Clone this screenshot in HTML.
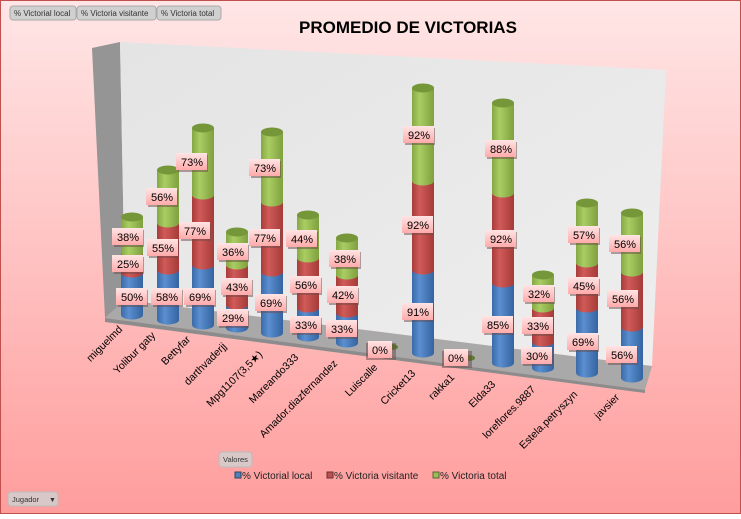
<!DOCTYPE html>
<html><head><meta charset="utf-8"><style>
body{margin:0;width:741px;height:514px;overflow:hidden;font-family:"Liberation Sans",sans-serif}
</style></head><body>
<svg width="741" height="514" viewBox="0 0 741 514" xmlns="http://www.w3.org/2000/svg" font-family="Liberation Sans, sans-serif">
<defs>
<linearGradient id="bg" x1="0" y1="0" x2="0" y2="1"><stop offset="0" stop-color="#ffe6e6"/><stop offset="1" stop-color="#ff9d9d"/></linearGradient>
<linearGradient id="wall" x1="0" y1="0" x2="1" y2="1"><stop offset="0" stop-color="#e4e4e4"/><stop offset="1" stop-color="#eeeeee"/></linearGradient>
<linearGradient id="b" x1="0" x2="1"><stop offset="0" stop-color="#3a6aa8"/><stop offset=".35" stop-color="#5b8fd0"/><stop offset="1" stop-color="#3463a0"/></linearGradient>
<linearGradient id="r" x1="0" x2="1"><stop offset="0" stop-color="#a83c3a"/><stop offset=".35" stop-color="#d05b58"/><stop offset="1" stop-color="#a53a38"/></linearGradient>
<linearGradient id="g" x1="0" x2="1"><stop offset="0" stop-color="#86a844"/><stop offset=".35" stop-color="#a9cd63"/><stop offset="1" stop-color="#7fa03e"/></linearGradient>
<linearGradient id="lb" x1="0" y1="0" x2="0" y2="1"><stop offset="0" stop-color="#ffe4e4"/><stop offset="1" stop-color="#ffaaaa"/></linearGradient>
</defs>
<rect x="0.5" y="0.5" width="740" height="513" fill="url(#bg)" stroke="#c0504d"/>
<!-- walls -->
<polygon points="92,48 120,42 125,300 105,318" fill="#959595"/>
<polygon points="120,42 666,70 652,366 125,300" fill="url(#wall)"/>
<polygon points="105,318 125,300 652,366 645,390" fill="#a9a9a9"/>
<polygon points="105,318 645,390 645,393 105,322" fill="#8c8c8c"/>
<g id="cyl"></g>
<script>
var data=[[132,315,273,253,217],[168,320,270,223,170],[203,325,265,195,128],[237,328,305,265,232],[272,333,272,202,132],[308,337,308,258,215],[347,343,313,275,238],[423,353,270,181,88],[503,363,283,193,103],[543,368,342,308,275],[587,373,308,263,203],[632,378,327,272,213]];
var ns="http://www.w3.org/2000/svg",g=document.getElementById('cyl'),w=11,ry=4.5;
function el(t,a){var e=document.createElementNS(ns,t);for(var k in a)e.setAttribute(k,a[k]);g.appendChild(e);return e;}
data.forEach(function(d){var cx=d[0];var segs=[[d[1],d[2],'b','#3463a0'],[d[2],d[3],'r','#a53a38'],[d[3],d[4],'g','#7fa03e']];
segs.forEach(function(s){el('rect',{x:cx-w,y:s[1],width:2*w,height:s[0]-s[1],fill:'url(#'+s[2]+')'});el('ellipse',{cx:cx,cy:s[0],rx:w,ry:ry,fill:'url(#'+s[2]+')'});});
el('ellipse',{cx:cx,cy:d[4],rx:w,ry:ry,fill:'#76963a'});});
</script>
<!-- zero markers -->
<ellipse cx="392" cy="347" rx="6" ry="3" fill="#5d7f2e"/>
<ellipse cx="469" cy="358" rx="6" ry="3" fill="#5d7f2e"/>
<g font-size="11" text-anchor="middle" fill="#000" id="labs"></g>
<script>
var L=[[132,297,'50%'],[128,264,'25%'],[128,237,'38%'],[167,297,'58%'],[163,248,'55%'],[162,197,'56%'],[200,297,'69%'],[195,231,'77%'],[192,162,'73%'],[233,318,'29%'],[237,287,'43%'],[233,252,'36%'],[271,303,'69%'],[265,238,'77%'],[265,168,'73%'],[306,325,'33%'],[306,285,'56%'],[302,239,'44%'],[342,329,'33%'],[343,295,'42%'],[345,259,'38%'],[380,350,'0%'],[418,312,'91%'],[418,225,'92%'],[419,135,'92%'],[456,358,'0%'],[498,325,'85%'],[501,239,'92%'],[501,149,'88%'],[537,356,'30%'],[538,326,'33%'],[539,294,'32%'],[583,342,'69%'],[584,286,'45%'],[584,235,'57%'],[622,355,'56%'],[623,299,'56%'],[625,244,'56%']];
var lg=document.getElementById('labs');
L.forEach(function(l){var x=l[0],y=l[1];
var s=document.createElementNS(ns,'rect');s.setAttribute('x',x-14);s.setAttribute('y',y-7);s.setAttribute('width',30);s.setAttribute('height',17);s.setAttribute('fill','#6a4a4a');s.setAttribute('opacity','.5');lg.appendChild(s);
var r=document.createElementNS(ns,'rect');r.setAttribute('x',x-16);r.setAttribute('y',y-9);r.setAttribute('width',l[2].length>2?31:24);r.setAttribute('height',17);r.setAttribute('fill','url(#lb)');if(l[2].length<3)r.setAttribute('x',x-12);lg.appendChild(r);
var t=document.createElementNS(ns,'text');t.setAttribute('x',x);t.setAttribute('y',y+4);t.textContent=l[2];lg.appendChild(t);});
</script>
<!-- axis labels -->
<g font-size="10.5" fill="#000" text-anchor="end">
<text transform="translate(123,330) rotate(-45)">miguelmd</text>
<text transform="translate(156,336) rotate(-45)">Yolibur gaty</text>
<text transform="translate(191,340) rotate(-45)">Bettyfar</text>
<text transform="translate(227,347) rotate(-45)">darthvaderjj</text>
<text transform="translate(263,355) rotate(-45)">Mpg1107(3,5★)</text>
<text transform="translate(299,358) rotate(-45)">Mareando333</text>
<text transform="translate(338,364) rotate(-45)">Amador.diazfernandez</text>
<text transform="translate(378,368) rotate(-45)">Luiscalle</text>
<text transform="translate(416,374) rotate(-45)">Cricket13</text>
<text transform="translate(455,378) rotate(-45)">rakka1</text>
<text transform="translate(496,385) rotate(-45)">Elda33</text>
<text transform="translate(536,390) rotate(-45)">loreflores.9887</text>
<text transform="translate(578,395) rotate(-45)">Estela.petryszyn</text>
<text transform="translate(620,398) rotate(-45)">javsier</text>
</g>
<text x="408" y="33" font-size="17" font-weight="bold" text-anchor="middle">PROMEDIO DE VICTORIAS</text>
<!-- top buttons -->
<g font-size="8" fill="#333">
<rect x="10" y="6" width="66" height="14" rx="3" fill="#d0d0d0" stroke="#aaa"/><text x="14" y="16">% Victorial local</text>
<rect x="77" y="6" width="79" height="14" rx="3" fill="#d0d0d0" stroke="#aaa"/><text x="81" y="16">% Victoria visitante</text>
<rect x="157" y="6" width="64" height="14" rx="3" fill="#d0d0d0" stroke="#aaa"/><text x="161" y="16">% Victoria total</text>
<rect x="219" y="452" width="33" height="15" rx="3" fill="#d8c8c8" stroke="#bbb"/><text x="223" y="462" font-size="7.5">Valores</text>
<rect x="8" y="492" width="50" height="14" rx="3" fill="#d8c8c8" stroke="#bbb"/><text x="12" y="502" font-size="7.5">Jugador</text><text x="49" y="502" font-size="7">▼</text>
</g>
<g font-size="10" fill="#222">
<rect x="235" y="472" width="6" height="6" fill="#4f81bd" stroke="#345"/><text x="242" y="479">% Victorial local</text>
<rect x="327" y="472" width="6" height="6" fill="#c0504d" stroke="#633"/><text x="334" y="479">% Victoria visitante</text>
<rect x="433" y="472" width="6" height="6" fill="#9bbb59" stroke="#563"/><text x="440" y="479">% Victoria total</text>
</g>
</svg>
</body></html>
